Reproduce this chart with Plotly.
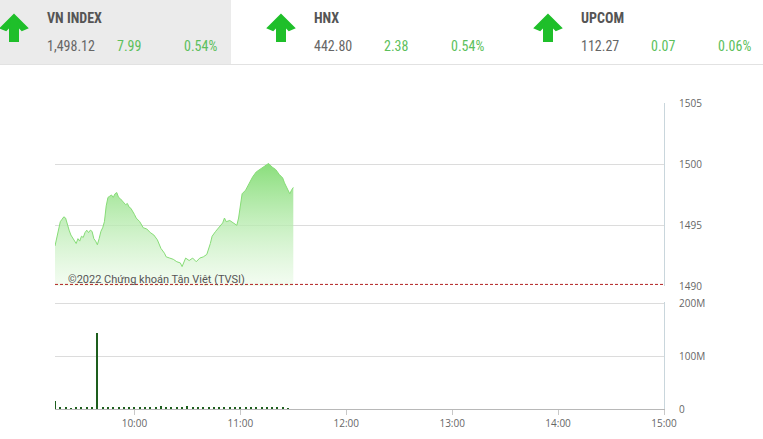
import plotly.graph_objects as go

W, H = 763, 439
DAY = "2022-01-04 "

# --- Data ------------------------------------------------------------------------------

index_names = ["VN INDEX", "HNX", "UPCOM"]
index_values = ["1,498.12", "442.80", "112.27"]
index_changes = ["7.99", "2.38", "0.07"]
index_pcts = ["0.54%", "0.54%", "0.06%"]

price_times = [
    "09:15", "09:16", "09:17", "09:18", "09:19", "09:20", "09:21", "09:22", "09:23", "09:24",
    "09:25", "09:26", "09:27", "09:28", "09:29", "09:30", "09:31", "09:32", "09:33", "09:34",
    "09:35", "09:36", "09:37", "09:38", "09:39", "09:40", "09:41", "09:42", "09:43", "09:44",
    "09:45", "09:46", "09:47", "09:48", "09:49", "09:50", "09:51", "09:52", "09:53", "09:54",
    "09:55", "09:56", "09:57", "09:58", "09:59", "10:00", "10:01", "10:03", "10:05", "10:07",
    "10:09", "10:11", "10:13", "10:14", "10:15", "10:17", "10:18", "10:20", "10:22", "10:24",
    "10:26", "10:27", "10:28", "10:29", "10:31", "10:33", "10:35", "10:37", "10:39", "10:41",
    "10:43", "10:44", "10:46", "10:48", "10:50", "10:51", "10:52", "10:54", "10:56", "10:58",
    "10:59", "11:00", "11:01", "11:03", "11:05", "11:07", "11:09", "11:11", "11:13", "11:15",
    "11:16", "11:18", "11:20", "11:22", "11:24", "11:25", "11:27", "11:28", "11:29", "11:30",
]
price_values = [
    1493.3, 1493.9, 1494.6, 1495.3, 1495.5, 1495.7, 1495.6, 1495.0, 1494.6, 1494.2,
    1494.0, 1493.7, 1493.5, 1493.9, 1493.7, 1494.1, 1494.0, 1494.4, 1494.6, 1494.4,
    1494.6, 1494.5, 1493.9, 1493.7, 1493.4, 1493.9, 1494.5, 1494.8, 1495.3, 1496.6,
    1497.3, 1497.4, 1497.5, 1497.3, 1497.6, 1497.7, 1497.3, 1497.2, 1497.0, 1496.9,
    1496.7, 1496.8, 1496.5, 1496.4, 1496.2, 1495.9, 1495.6, 1495.3, 1494.8, 1494.7,
    1494.4, 1494.2, 1493.8, 1493.5, 1493.1, 1492.7, 1492.4, 1492.3, 1492.2, 1492.0,
    1491.9, 1491.6, 1492.0, 1492.3, 1492.1, 1492.3, 1492.0, 1492.3, 1492.4, 1492.6,
    1493.5, 1494.1, 1494.5, 1494.9, 1495.2, 1495.6, 1495.3, 1495.4, 1495.2, 1495.0,
    1495.6, 1496.5, 1497.6, 1497.9, 1498.5, 1499.0, 1499.4, 1499.6, 1499.8, 1500.0,
    1500.1, 1499.8, 1499.6, 1499.2, 1498.9, 1498.5, 1497.8, 1497.6, 1497.9, 1498.12,
]
reference_price = 1490.13

volume_times = [
    "09:15", "09:18", "09:21", "09:24", "09:27", "09:30", "09:33", "09:36", "09:39", "09:42",
    "09:45", "09:48", "09:51", "09:54", "09:57", "10:00", "10:03", "10:06", "10:09", "10:12",
    "10:15", "10:18", "10:21", "10:24", "10:27", "10:30", "10:33", "10:36", "10:39", "10:42",
    "10:45", "10:48", "10:51", "10:54", "10:57", "11:00", "11:03", "11:06", "11:09", "11:12",
    "11:15", "11:18", "11:21", "11:24", "11:27",
]
volume_millions = [
    15, 2, 3, 1.5, 2, 3, 2, 4, 144, 3,
    2, 2.5, 2, 3, 2, 4, 2, 3, 4, 2,
    5, 2, 3, 4, 2, 6, 3, 2, 3, 2,
    4, 2, 3, 2, 3, 2, 3, 2, 2, 2,
    2, 2, 2, 2, 1.5,
]

price_ticks = [1490, 1495, 1500, 1505]
volume_ticks = [0, 100e6, 200e6]
volume_tick_labels = ["0", "100M", "200M"]
time_ticks = ["10:00", "11:00", "12:00", "13:00", "14:00", "15:00"]

# --- Helpers ---------------------------------------------------------------------------

GREEN_UP = "#1fbf2a"
TEXT_GREEN = "#5cbf5c"
GRID = "#dcdcdc"
AXIS_LINE = "#c9d6dc"
TICK_FONT = dict(family="Open Sans, Arial, sans-serif", size=10, color="#666")
HEAD_FONT = "Roboto Condensed, Liberation Sans Narrow, DejaVu Sans Condensed, Roboto, sans-serif"


def px(x, y):
    """Pixel position -> paper coordinates (margins are zero)."""
    return x / W, 1 - y / H


def arrow_path(cx, top):
    pts = [
        (cx, top), (cx + 13, top + 13), (cx + 8, top + 15), (cx + 4, top + 11),
        (cx + 4, top + 26), (cx - 4, top + 26), (cx - 4, top + 11), (cx - 8, top + 15),
        (cx - 13, top + 13),
    ]
    parts = []
    for i, (x, y) in enumerate(pts):
        fx, fy = px(x, y)
        parts.append(("M" if i == 0 else "L") + f"{fx:.5f},{fy:.5f}")
    return " ".join(parts) + " Z"


# --- Figure ----------------------------------------------------------------------------

fig = go.Figure()

price_x = [DAY + t for t in price_times]
fig.add_trace(
    go.Scatter(
        x=price_x, y=price_values, mode="lines", fill="tozeroy",
        line=dict(color="#86dc76", width=1),
        fillgradient=dict(
            type="vertical", start=1490, stop=max(price_values),
            colorscale=[[0, "rgba(235,250,232,0.6)"], [1, "rgba(130,220,115,0.95)"]],
        ),
        hoverinfo="skip", showlegend=False, xaxis="x", yaxis="y",
    )
)
fig.add_trace(
    go.Scatter(
        x=[DAY + "09:15", DAY + "15:00"], y=[reference_price, reference_price], mode="lines",
        line=dict(color="#b22222", width=1, dash="3px,2px"),
        hoverinfo="skip", showlegend=False, xaxis="x", yaxis="y",
    )
)
fig.add_trace(
    go.Bar(
        x=[DAY + t for t in volume_times], y=[v * 1e6 for v in volume_millions],
        width=35000, marker=dict(color="#1d5e1d", line=dict(width=0)),
        hoverinfo="skip", showlegend=False, xaxis="x2", yaxis="y2",
    )
)

x_range = [DAY + "09:15", DAY + "15:00"]
x_dom = [55 / W, 664 / W]
# Ranges run a hair past the top tick so the top grid line is still drawn.
fig.update_layout(
    width=W, height=H, autosize=False,
    margin=dict(l=0, r=0, t=0, b=0, pad=0),
    paper_bgcolor="white", plot_bgcolor="white",
    bargap=0,
    xaxis=dict(
        domain=x_dom, anchor="y", range=x_range, type="date", automargin=False,
        showticklabels=False, showgrid=False, zeroline=False, fixedrange=True,
    ),
    yaxis=dict(
        domain=[1 - 286 / H, 1 - 103 / H], anchor="x", side="right", range=[1490, 1505.08],
        tickvals=price_ticks, ticktext=[str(v) for v in price_ticks], tickfont=TICK_FONT,
        showgrid=True, gridcolor=GRID, gridwidth=1, zeroline=False, automargin=False,
        showline=True, linecolor=AXIS_LINE, linewidth=1, ticks="", ticklabelstandoff=12,
    ),
    xaxis2=dict(
        domain=x_dom, anchor="y2", range=x_range, type="date", automargin=False,
        tickvals=[DAY + t for t in time_ticks], ticktext=time_ticks, tickfont=TICK_FONT,
        showgrid=False, zeroline=False, showline=True, linecolor="#b8b8b8",
        ticks="outside", ticklen=5, tickcolor="#c8c8c8",
    ),
    yaxis2=dict(
        domain=[1 - 409 / H, 1 - 302 / H], anchor="x2", side="right", range=[0, 202e6],
        tickvals=volume_ticks, ticktext=volume_tick_labels, tickfont=TICK_FONT,
        showgrid=True, gridcolor=GRID, zeroline=False, automargin=False,
        showline=True, linecolor=AXIS_LINE, linewidth=1, ticks="", ticklabelstandoff=12,
    ),
)

# Watermark
wx, wy = px(66, 279)
fig.add_annotation(
    x=wx, y=wy, xref="paper", yref="paper", xanchor="left", yanchor="middle",
    text="©2022 Chứng khoán Tân Việt (TVSI)", showarrow=False,
    font=dict(family="Roboto, sans-serif", size=11, color="#555"),
)

# Header cards
shapes = []
x0, y0 = px(0, 0)
x1, y1 = px(231, 64)
shapes.append(dict(type="rect", xref="paper", yref="paper", x0=x0, y0=y1, x1=x1, y1=y0,
                   fillcolor="#ebebeb", line=dict(width=0), layer="below"))
lx0, ly = px(0, 64.5)
shapes.append(dict(type="line", xref="paper", yref="paper", x0=0, x1=1, y0=ly, y1=ly,
                   line=dict(color="#e2e2e2", width=1)))

card_step = 267
for i, name in enumerate(index_names):
    off = i * card_step
    shapes.append(dict(type="path", xref="paper", yref="paper", path=arrow_path(14 + off, 15),
                       fillcolor=GREEN_UP, line=dict(color=GREEN_UP, width=2)))
    tx, ty = px(45 + off, 18)
    fig.add_annotation(x=tx, y=ty, xref="paper", yref="paper", xanchor="left", yanchor="middle",
                       text=f"<b>{name}</b>", showarrow=False,
                       font=dict(family=HEAD_FONT, size=14, color="#555"))
    vx, vy = px(45 + off, 46)
    fig.add_annotation(x=vx, y=vy, xref="paper", yref="paper", xanchor="left", yanchor="middle",
                       text=index_values[i], showarrow=False,
                       font=dict(family=HEAD_FONT, size=14, color="#666"))
    cx, cy = px(115 + off, 46)
    fig.add_annotation(x=cx, y=cy, xref="paper", yref="paper", xanchor="left", yanchor="middle",
                       text=index_changes[i], showarrow=False,
                       font=dict(family=HEAD_FONT, size=14, color=TEXT_GREEN))
    rx, ry = px(219 + off, 46)
    fig.add_annotation(x=rx, y=ry, xref="paper", yref="paper", xanchor="right", yanchor="middle",
                       text=index_pcts[i], showarrow=False,
                       font=dict(family=HEAD_FONT, size=14, color=TEXT_GREEN))

fig.update_layout(shapes=shapes)

# Fixed-size page: no responsive resizing, no modebar, and no default body margin.
fig.write_html(
    "out.html",
    config={"responsive": False, "displayModeBar": False},
    post_script="document.body.style.margin='0';document.body.style.overflow='hidden';",
)
